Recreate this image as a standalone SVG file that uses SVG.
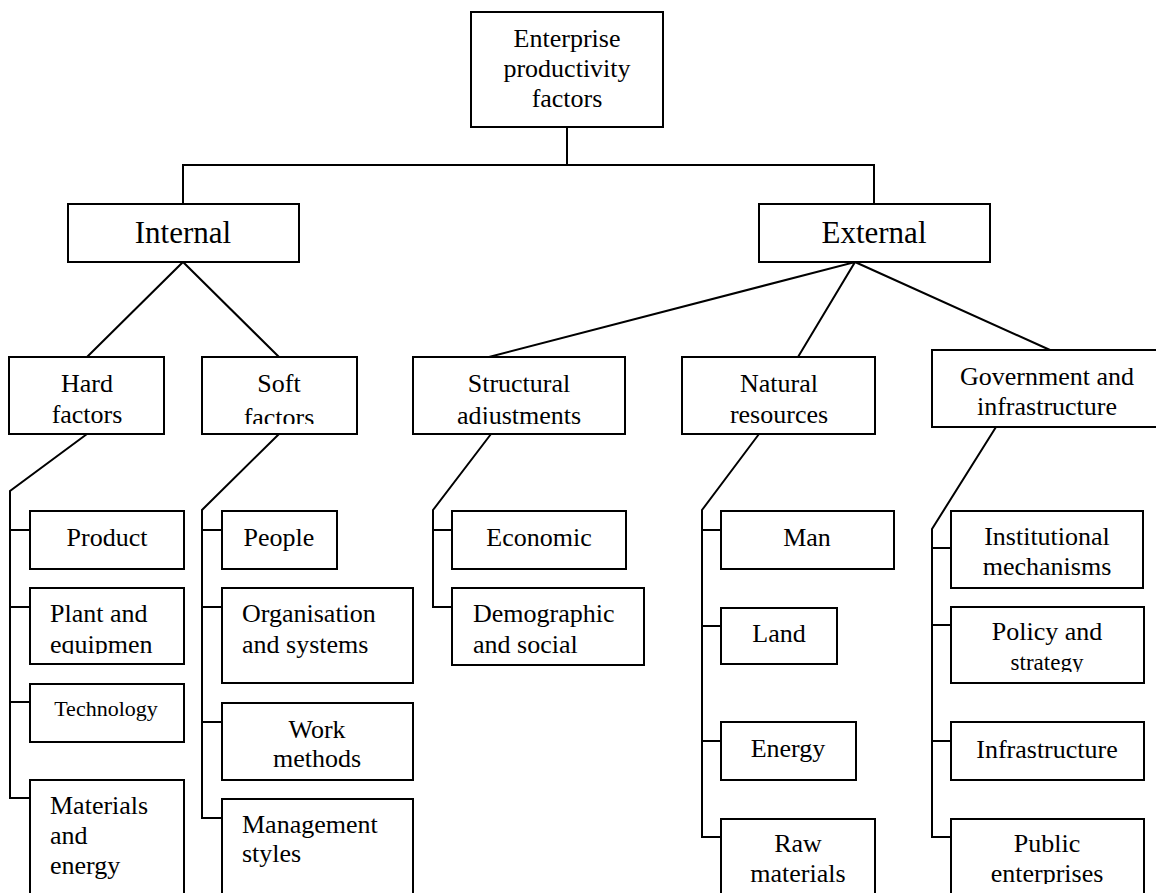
<svg xmlns="http://www.w3.org/2000/svg" width="1156" height="893" viewBox="0 0 1156 893">
  <style>
    .box { fill: #ffffff; stroke: #000000; stroke-width: 2; }
    .t { font-family: "Liberation Serif", "Times New Roman", serif; font-size: 26px; fill: #000000; }
    .c { text-anchor: middle; }
    .big { font-size: 31px; }
    .small { font-size: 22px; }
    .conn { fill: none; stroke: #000000; stroke-width: 2; stroke-linejoin: miter; }
  </style>
  <defs>
    <clipPath id="clip-soft"><rect x="202" y="357" width="155" height="67"/></clipPath>
    <clipPath id="clip-struct"><rect x="413" y="357" width="212" height="67"/></clipPath>
    <clipPath id="clip-plant"><rect x="30" y="588" width="154" height="66"/></clipPath>
    <clipPath id="clip-policy"><rect x="951" y="607" width="193" height="65"/></clipPath>
    <clipPath id="clip-raw"><rect x="721" y="819" width="154" height="65"/></clipPath>
    <clipPath id="clip-public"><rect x="951" y="819" width="193" height="65"/></clipPath>
  </defs>
  <rect width="1156" height="893" fill="#ffffff"/>

  <!-- connectors -->
  <g id="connectors" class="conn">
    <path d="M567 127 V165 M183 204 V165 H874 V204"/>
    <path d="M87 357 L183 262 L279 357"/>
    <path d="M489 357 L855 262 L798 357 M855 262 L1050 350"/>
    <!-- hard factors -->
    <path d="M87 434 L10 491 V798 H30 M10 530 H30 M10 607 H30 M10 702 H30"/>
    <!-- soft factors -->
    <path d="M279 434 L202 510 V818 H222 M202 530 H222 M202 607 H222 M202 722 H222"/>
    <!-- structural adjustments -->
    <path d="M491 434 L433 510 V607 H452 M433 530 H452"/>
    <!-- natural resources -->
    <path d="M759 434 L702 510 V837 H721 M702 530 H721 M702 626 H721 M702 741 H721"/>
    <!-- government and infrastructure -->
    <path d="M996 427 L932 529 V837 H951 M932 548 H951 M932 625 H951 M932 741 H951"/>
  </g>

  <g id="root">
    <rect class="box" x="471" y="12" width="192" height="115"/>
    <text class="t c" x="567" y="47">Enterprise</text>
    <text class="t c" x="567" y="77">productivity</text>
    <text class="t c" x="567" y="107">factors</text>
  </g>

  <g id="internal">
    <rect class="box" x="68" y="204" width="231" height="58"/>
    <text class="t c big" x="183" y="243">Internal</text>
  </g>
  <g id="external">
    <rect class="box" x="759" y="204" width="231" height="58"/>
    <text class="t c big" x="874" y="243">External</text>
  </g>

  <g id="hard-factors">
    <rect class="box" x="9" y="357" width="155" height="77"/>
    <text class="t c" x="87" y="392">Hard</text>
    <text class="t c" x="87" y="423">factors</text>
  </g>
  <g id="soft-factors">
    <rect class="box" x="202" y="357" width="155" height="77"/>
    <g clip-path="url(#clip-soft)">
      <text class="t c" x="279" y="392">Soft</text>
      <text class="t c" x="279" y="426">factors</text>
    </g>
  </g>
  <g id="structural">
    <rect class="box" x="413" y="357" width="212" height="77"/>
    <g clip-path="url(#clip-struct)">
      <text class="t c" x="519" y="392">Structural</text>
      <text class="t c" x="519" y="424">adjustments</text>
    </g>
  </g>
  <g id="natural">
    <rect class="box" x="682" y="357" width="193" height="77"/>
    <text class="t c" x="779" y="392">Natural</text>
    <text class="t c" x="779" y="423">resources</text>
  </g>
  <g id="government">
    <rect class="box" x="932" y="350" width="226" height="77"/>
    <text class="t c" x="1047" y="385">Government and</text>
    <text class="t c" x="1047" y="415">infrastructure</text>
  </g>

  <!-- hard factors children -->
  <g id="product">
    <rect class="box" x="30" y="511" width="154" height="58"/>
    <text class="t c" x="107" y="546">Product</text>
  </g>
  <g id="plant">
    <rect class="box" x="30" y="588" width="154" height="76"/>
    <g clip-path="url(#clip-plant)">
      <text class="t" x="50" y="622">Plant and</text>
      <text class="t" x="50" y="653">equipmen</text>
    </g>
  </g>
  <g id="technology">
    <rect class="box" x="30" y="684" width="154" height="58"/>
    <text class="t c small" x="106" y="716">Technology</text>
  </g>
  <g id="materials">
    <rect class="box" x="30" y="780" width="154" height="120"/>
    <text class="t" x="50" y="814">Materials</text>
    <text class="t" x="50" y="844">and</text>
    <text class="t" x="50" y="874">energy</text>
  </g>

  <!-- soft factors children -->
  <g id="people">
    <rect class="box" x="222" y="511" width="115" height="58"/>
    <text class="t c" x="279" y="546">People</text>
  </g>
  <g id="organisation">
    <rect class="box" x="222" y="588" width="191" height="95"/>
    <text class="t" x="242" y="622">Organisation</text>
    <text class="t" x="242" y="653">and systems</text>
  </g>
  <g id="work-methods">
    <rect class="box" x="222" y="703" width="191" height="77"/>
    <text class="t c" x="317" y="738">Work</text>
    <text class="t c" x="317" y="767">methods</text>
  </g>
  <g id="management">
    <rect class="box" x="222" y="799" width="191" height="110"/>
    <text class="t" x="242" y="833">Management</text>
    <text class="t" x="242" y="862">styles</text>
  </g>

  <!-- structural adjustments children -->
  <g id="economic">
    <rect class="box" x="452" y="511" width="174" height="58"/>
    <text class="t c" x="539" y="546">Economic</text>
  </g>
  <g id="demographic">
    <rect class="box" x="452" y="588" width="192" height="77"/>
    <text class="t" x="473" y="622">Demographic</text>
    <text class="t" x="473" y="653">and social</text>
  </g>

  <!-- natural resources children -->
  <g id="man">
    <rect class="box" x="721" y="511" width="173" height="58"/>
    <text class="t c" x="807" y="546">Man</text>
  </g>
  <g id="land">
    <rect class="box" x="721" y="608" width="116" height="56"/>
    <text class="t c" x="779" y="642">Land</text>
  </g>
  <g id="energy">
    <rect class="box" x="721" y="722" width="135" height="58"/>
    <text class="t c" x="788" y="757">Energy</text>
  </g>
  <g id="raw-materials">
    <rect class="box" x="721" y="819" width="154" height="90"/>
    <g clip-path="url(#clip-raw)">
      <text class="t c" x="798" y="852">Raw</text>
      <text class="t c" x="798" y="882">materials</text>
    </g>
  </g>

  <!-- government and infrastructure children -->
  <g id="institutional">
    <rect class="box" x="951" y="511" width="192" height="77"/>
    <text class="t c" x="1047" y="545">Institutional</text>
    <text class="t c" x="1047" y="575">mechanisms</text>
  </g>
  <g id="policy">
    <rect class="box" x="951" y="607" width="193" height="76"/>
    <g clip-path="url(#clip-policy)">
      <text class="t c" x="1047" y="640">Policy and</text>
      <text class="t c" x="1047" y="670" style="font-size:23px">strategy</text>
    </g>
  </g>
  <g id="infrastructure">
    <rect class="box" x="951" y="722" width="193" height="58"/>
    <text class="t c" x="1047" y="758">Infrastructure</text>
  </g>
  <g id="public">
    <rect class="box" x="951" y="819" width="193" height="90"/>
    <g clip-path="url(#clip-public)">
      <text class="t c" x="1047" y="852">Public</text>
      <text class="t c" x="1047" y="882">enterprises</text>
    </g>
  </g>
</svg>
